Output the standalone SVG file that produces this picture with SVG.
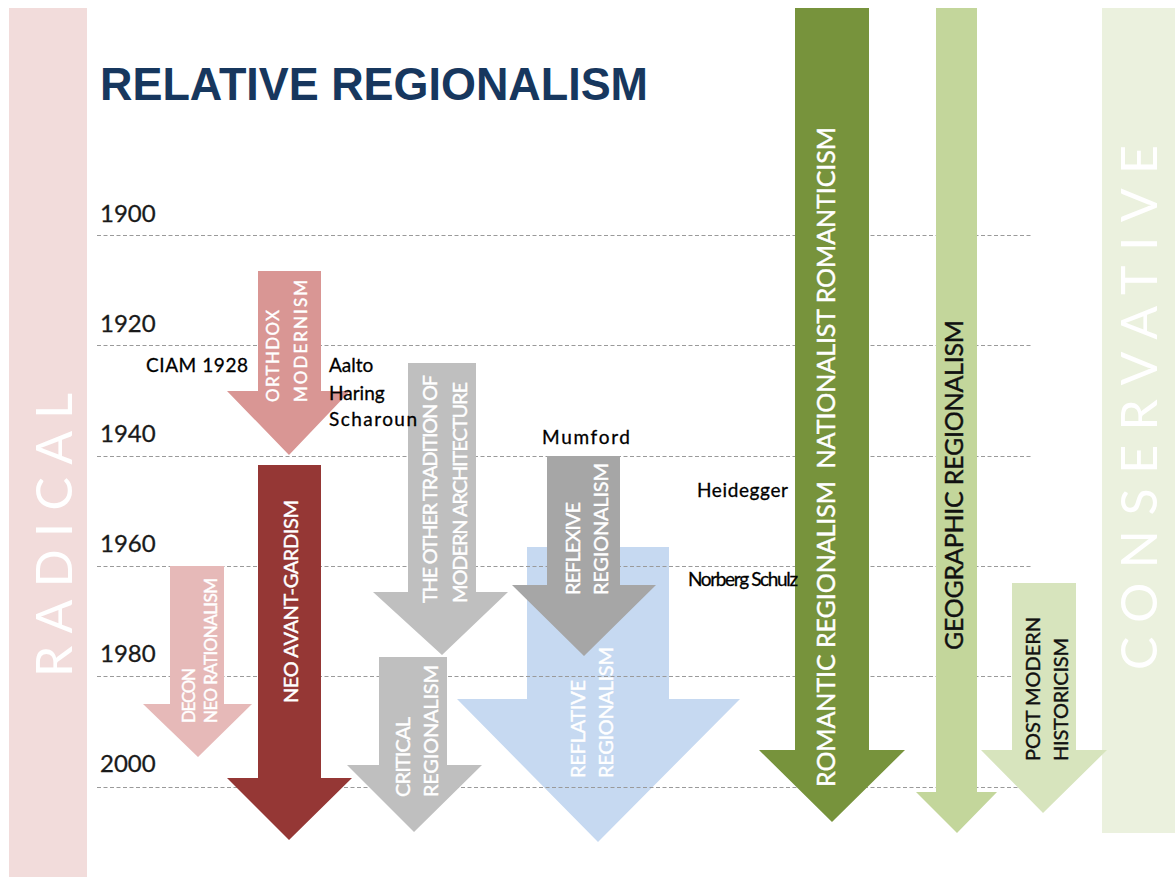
<svg xmlns="http://www.w3.org/2000/svg" width="1175" height="877" viewBox="0 0 1175 877">
  <style>
    .band { font-family: "Lato", "Liberation Sans", sans-serif; font-size: 50px; fill: #ffffff; }
    .lbl { font-family: "Lato", "Liberation Sans", sans-serif; fill: #ffffff; stroke: #ffffff; stroke-width: 0.4px; }
    .dark { fill: #111111; stroke: #111111; }
    .year { font-family: "Lato", "Liberation Sans", sans-serif; font-size: 24px; fill: #1a1a1a; stroke: #1a1a1a; stroke-width: 0.3px; }
    .name { font-family: "Lato", "Liberation Sans", sans-serif; font-size: 19px; fill: #000000; stroke: #000000; stroke-width: 0.3px; }
    .grid line { stroke: #9a9a9a; stroke-width: 1; stroke-dasharray: 4 2.5; }
  </style>
  <rect width="1175" height="877" fill="#ffffff"/>

  <!-- side bands -->
  <g id="radical">
    <rect x="9" y="8" width="78" height="869" fill="#f2dcdb"/>
    <text class="band" transform="translate(72,677) rotate(-90)" textLength="284" lengthAdjust="spacing">RADICAL</text>
  </g>
  <g id="conservative">
    <rect x="1102" y="8" width="73" height="825" fill="#ebf1de"/>
    <text class="band" transform="translate(1157,670) rotate(-90)" textLength="525" lengthAdjust="spacing">CONSERVATIVE</text>
  </g>

  <!-- title -->
  <text id="title" x="100" y="100" font-family="Liberation Sans, Arial, sans-serif" font-weight="bold" font-size="46" fill="#17375e" textLength="548" lengthAdjust="spacingAndGlyphs">RELATIVE REGIONALISM</text>

  <!-- reflative regionalism sits under the time grid -->
  <g id="reflative">
    <polygon points="527,547 669,547 669,699 740,699 598,842 457,699 527,699" fill="#c6d9f1"/>
    <text class="lbl" font-size="20" transform="translate(585,778) rotate(-90)" textLength="98" lengthAdjust="spacing">REFLATIVE</text>
    <text class="lbl" font-size="20" transform="translate(613,778) rotate(-90)" textLength="131" lengthAdjust="spacing">REGIONALISM</text>
  </g>

  <!-- time grid -->
  <g id="timeline" class="grid">
    <line x1="97" y1="235.5" x2="1032" y2="235.5"/>
    <line x1="97" y1="345.5" x2="1032" y2="345.5"/>
    <line x1="97" y1="456.5" x2="1032" y2="456.5"/>
    <line x1="97" y1="566.5" x2="1032" y2="566.5"/>
    <line x1="97" y1="676.5" x2="1032" y2="676.5"/>
    <line x1="97" y1="787.5" x2="1032" y2="787.5"/>
  </g>
  <g id="years">
    <text class="year" x="100" y="222">1900</text>
    <text class="year" x="100" y="332">1920</text>
    <text class="year" x="100" y="442">1940</text>
    <text class="year" x="100" y="552">1960</text>
    <text class="year" x="100" y="662">1980</text>
    <text class="year" x="100" y="772">2000</text>
  </g>

  <!-- movements -->
  <g id="orthodox-modernism">
    <polygon points="258,271 321,271 321,391 350,391 289,455 227,391 258,391" fill="#d99694"/>
    <text class="lbl" font-size="17" transform="translate(279,402) rotate(-90)" textLength="92" lengthAdjust="spacing">ORTHDOX</text>
    <text class="lbl" font-size="17" transform="translate(307,402) rotate(-90)" textLength="122" lengthAdjust="spacing">MODERNISM</text>
  </g>
  <g id="neo-avant-gardism">
    <polygon points="258,465 321,465 321,778 352,778 289,840 227,778 258,778" fill="#953735"/>
    <text class="lbl" font-size="20" transform="translate(298,703) rotate(-90)" textLength="203" lengthAdjust="spacing">NEO AVANT-GARDISM</text>
  </g>
  <g id="decon">
    <polygon points="170,566 224,566 224,704 252,704 198,757 143,704 170,704" fill="#e6b9b8"/>
    <text class="lbl" font-size="17" transform="translate(195,723) rotate(-90)" textLength="55" lengthAdjust="spacing">DECON</text>
    <text class="lbl" font-size="17" transform="translate(217,723) rotate(-90)" textLength="145" lengthAdjust="spacing">NEO RATIONALISM</text>
  </g>
  <g id="other-tradition">
    <polygon points="408,363 476,363 476,592 508,592 442,655 373,592 408,592" fill="#bfbfbf"/>
    <text class="lbl" font-size="20" transform="translate(437,603) rotate(-90)" textLength="228" lengthAdjust="spacing">THE OTHER TRADITION OF</text>
    <text class="lbl" font-size="20" transform="translate(467,603) rotate(-90)" textLength="221" lengthAdjust="spacing">MODERN ARCHITECTURE</text>
  </g>
  <g id="critical-regionalism">
    <polygon points="379,657 447,657 447,765 482,765 414,832 347,765 379,765" fill="#bfbfbf"/>
    <text class="lbl" font-size="20" transform="translate(410,797) rotate(-90)" textLength="80" lengthAdjust="spacing">CRITICAL</text>
    <text class="lbl" font-size="20" transform="translate(438,797) rotate(-90)" textLength="132" lengthAdjust="spacing">REGIONALISM</text>
  </g>
  <g id="reflexive-regionalism">
    <polygon points="547,456 620,456 620,585 656,585 584,656 512,585 547,585" fill="#a6a6a6"/>
    <text class="lbl" font-size="20" transform="translate(580,595) rotate(-90)" textLength="93" lengthAdjust="spacing">REFLEXIVE</text>
    <text class="lbl" font-size="20" transform="translate(608,595) rotate(-90)" textLength="132" lengthAdjust="spacing">REGIONALISM</text>
  </g>
  <g id="romantic-regionalism">
    <polygon points="795,8 869,8 869,750 905,750 832,822 759,750 795,750" fill="#77933c"/>
    <text class="lbl" font-size="25" xml:space="preserve" transform="translate(835,787) rotate(-90)" textLength="660" lengthAdjust="spacing">ROMANTIC REGIONALISM  NATIONALIST ROMANTICISM</text>
  </g>
  <g id="geographic-regionalism">
    <polygon points="936,8 977,8 977,792 997,792 957,833 916,792 936,792" fill="#c3d69b"/>
    <text class="lbl dark" font-size="25" transform="translate(963,650) rotate(-90)" textLength="330" lengthAdjust="spacing">GEOGRAPHIC REGIONALISM</text>
  </g>
  <g id="post-modern-historicism">
    <polygon points="1012,583 1076,583 1076,750 1107,750 1043,813 981,750 1012,750" fill="#d7e4bd"/>
    <text class="lbl dark" font-size="20" transform="translate(1040,761) rotate(-90)" textLength="144" lengthAdjust="spacing">POST MODERN</text>
    <text class="lbl dark" font-size="20" transform="translate(1068,761) rotate(-90)" textLength="123" lengthAdjust="spacing">HISTORICISM</text>
  </g>

  <!-- people -->
  <g id="names">
    <text class="name" x="146" y="372" textLength="102" lengthAdjust="spacing">CIAM 1928</text>
    <text class="name" x="329" y="372">Aalto</text>
    <text class="name" x="329" y="400">Haring</text>
    <text class="name" x="329" y="426" textLength="88" lengthAdjust="spacing">Scharoun</text>
    <text class="name" x="542" y="444" textLength="88" lengthAdjust="spacing">Mumford</text>
    <text class="name" x="697" y="497" textLength="91" lengthAdjust="spacing">Heidegger</text>
    <text class="name" x="688" y="586" font-size="14" textLength="110" lengthAdjust="spacing">Norberg Schulz</text>
  </g>
</svg>
